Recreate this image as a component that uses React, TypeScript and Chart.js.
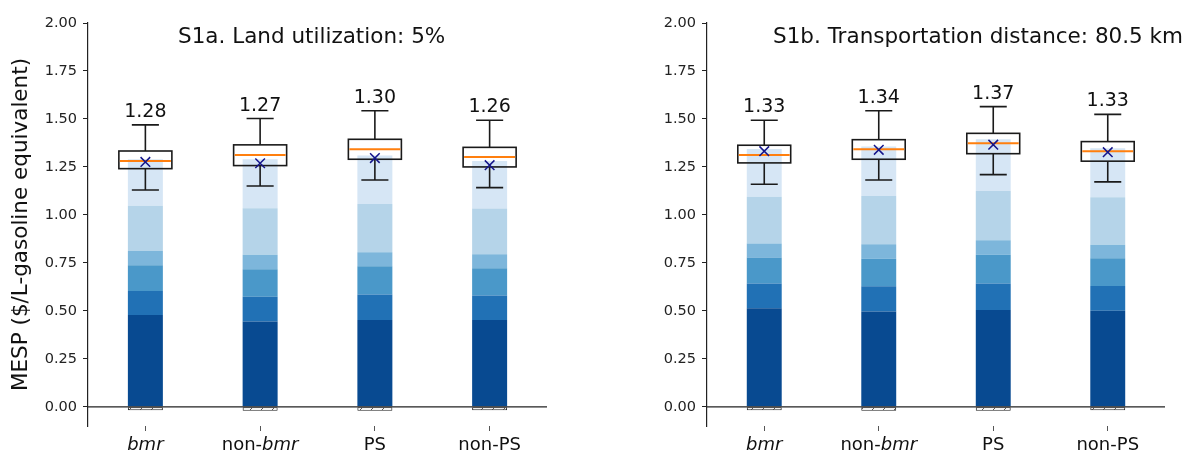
import React, { useEffect, useRef } from "react";
import { Chart, registerables } from "chart.js";

Chart.register(...registerables);
Chart.defaults.font.family = '"DejaVu Sans", sans-serif';

const FONT = '"DejaVu Sans", sans-serif';

// ---------- data ----------
const categories = ["bmr", "non-bmr", "PS", "non-PS"];
const yTicks = [0, 0.25, 0.5, 0.75, 1.0, 1.25, 1.5, 1.75, 2.0];
const layerColors = ["#084a91", "#2171b5", "#4a98c9", "#7db6db", "#b5d4e9", "#d6e6f5"];

// Panel S1a: stacked cost layers (bottom -> top), one value per category
const aLayer1 = [0.478, 0.444, 0.453, 0.453];
const aLayer2 = [0.126, 0.129, 0.132, 0.127];
const aLayer3 = [0.134, 0.144, 0.148, 0.142];
const aLayer4 = [0.074, 0.075, 0.073, 0.073];
const aLayer5 = [0.236, 0.243, 0.251, 0.238];
const aLayer6 = [0.242, 0.255, 0.253, 0.248];
const aNegative = [-0.018, -0.02, -0.02, -0.018];
const aWhiskerLow = [1.13, 1.151, 1.182, 1.142];
const aQ1 = [1.241, 1.257, 1.29, 1.25];
const aMedian = [1.281, 1.3125, 1.342, 1.302];
const aQ3 = [1.333, 1.365, 1.394, 1.352];
const aWhiskerHigh = [1.469, 1.502, 1.543, 1.493];
const aMean = [1.276, 1.269, 1.296, 1.259];

// Panel S1b
const bLayer1 = [0.514, 0.496, 0.505, 0.5];
const bLayer2 = [0.128, 0.132, 0.137, 0.13];
const bLayer3 = [0.136, 0.144, 0.151, 0.144];
const bLayer4 = [0.073, 0.075, 0.075, 0.071];
const bLayer5 = [0.243, 0.252, 0.257, 0.247];
const bLayer6 = [0.25, 0.257, 0.269, 0.255];
const bNegative = [-0.018, -0.02, -0.02, -0.018];
const bWhiskerLow = [1.16, 1.182, 1.21, 1.172];
const bQ1 = [1.271, 1.29, 1.319, 1.28];
const bMedian = [1.3125, 1.342, 1.373, 1.332];
const bQ3 = [1.363, 1.392, 1.425, 1.382];
const bWhiskerHigh = [1.493, 1.543, 1.564, 1.524];
const bMean = [1.332, 1.339, 1.366, 1.327];

const titleA = "S1a. Land utilization: 5%";
const titleB = "S1b. Transportation distance: 80.5 km";
const yAxisTitle = "MESP ($/L-gasoline equivalent)";

type PanelProps = {
  layers: number[][];
  negative: number[];
  whiskerLow: number[];
  q1: number[];
  median: number[];
  q3: number[];
  whiskerHigh: number[];
  mean: number[];
  title: string;
  titleOffset: number;
  showYTitle: boolean;
  yAxisWidth: number;
  padRight: number;
  width: number;
  left: number;
};

function makeHatch(ctx: CanvasRenderingContext2D) {
  const s = 11;
  const c = document.createElement("canvas");
  c.width = s;
  c.height = s;
  const g = c.getContext("2d")!;
  g.fillStyle = "#ffffff";
  g.fillRect(0, 0, s, s);
  g.strokeStyle = "#333";
  g.lineWidth = 1;
  g.beginPath();
  g.moveTo(0, s);
  g.lineTo(s, 0);
  g.moveTo(-3, 3);
  g.lineTo(3, -3);
  g.moveTo(s - 3, s + 3);
  g.lineTo(s + 3, s - 3);
  g.stroke();
  return ctx.createPattern(c, "repeat");
}

function Panel(p: PanelProps) {
  const ref = useRef<HTMLCanvasElement | null>(null);

  useEffect(() => {
    const canvas = ref.current!;
    const ctx2d = canvas.getContext("2d")!;
    const hatch = makeHatch(ctx2d);

    const overlay = {
      id: "overlay",
      afterDatasetsDraw(chart: any) {
        const { ctx, chartArea, scales } = chart;
        const x = scales.x;
        const y = scales.y;
        ctx.save();
        // zero line
        const y0 = y.getPixelForValue(0);
        ctx.strokeStyle = "#222";
        ctx.lineWidth = 1.2;
        ctx.beginPath();
        ctx.moveTo(chartArea.left, y0);
        ctx.lineTo(chartArea.right, y0);
        ctx.stroke();

        const step = x.getPixelForValue(1) - x.getPixelForValue(0);
        const halfBox = step * 0.231;
        const halfCap = step * 0.118;
        categories.forEach((cat, i) => {
          const cx = x.getPixelForValue(i);
          const pLow = y.getPixelForValue(p.whiskerLow[i]);
          const pQ1 = y.getPixelForValue(p.q1[i]);
          const pMed = y.getPixelForValue(p.median[i]);
          const pQ3 = y.getPixelForValue(p.q3[i]);
          const pHigh = y.getPixelForValue(p.whiskerHigh[i]);
          const pMean = y.getPixelForValue(p.mean[i]);

          ctx.strokeStyle = "#1a1a1a";
          ctx.lineWidth = 1.6;
          ctx.beginPath();
          ctx.moveTo(cx, pQ3);
          ctx.lineTo(cx, pHigh);
          ctx.moveTo(cx - halfCap, pHigh);
          ctx.lineTo(cx + halfCap, pHigh);
          ctx.moveTo(cx, pQ1);
          ctx.lineTo(cx, pLow);
          ctx.moveTo(cx - halfCap, pLow);
          ctx.lineTo(cx + halfCap, pLow);
          ctx.stroke();
          ctx.strokeRect(cx - halfBox, pQ3, halfBox * 2, pQ1 - pQ3);

          ctx.strokeStyle = "#ff7f0e";
          ctx.lineWidth = 2;
          ctx.beginPath();
          ctx.moveTo(cx - halfBox + 1, pMed);
          ctx.lineTo(cx + halfBox - 1, pMed);
          ctx.stroke();

          ctx.strokeStyle = "#14148a";
          ctx.lineWidth = 1.5;
          const m = 4.8;
          ctx.beginPath();
          ctx.moveTo(cx - m, pMean - m);
          ctx.lineTo(cx + m, pMean + m);
          ctx.moveTo(cx - m, pMean + m);
          ctx.lineTo(cx + m, pMean - m);
          ctx.stroke();

          ctx.fillStyle = "#111";
          ctx.font = `19px ${FONT}`;
          ctx.textAlign = "center";
          ctx.textBaseline = "alphabetic";
          ctx.fillText(p.mean[i].toFixed(2), cx, pHigh - 8);

          // category label with italic "bmr"
          const parts = cat.split(/(bmr)/).filter((s) => s.length > 0);
          const fonts = parts.map((s) => (s === "bmr" ? `italic 18px ${FONT}` : `18px ${FONT}`));
          let total = 0;
          const widths = parts.map((s, k) => {
            ctx.font = fonts[k];
            const w = ctx.measureText(s).width;
            total += w;
            return w;
          });
          let tx = cx - total / 2;
          ctx.textAlign = "left";
          parts.forEach((s, k) => {
            ctx.font = fonts[k];
            ctx.fillText(s, tx, chartArea.bottom + 24);
            tx += widths[k];
          });
        });

        ctx.fillStyle = "#111";
        ctx.font = `21.5px ${FONT}`;
        ctx.textAlign = "left";
        ctx.textBaseline = "alphabetic";
        ctx.fillText(p.title, chartArea.left + p.titleOffset, 43);
        ctx.restore();
      },
    };

    const datasets: any[] = p.layers.map((vals, k) => ({
      label: `layer${k + 1}`,
      data: vals,
      backgroundColor: layerColors[k],
      borderWidth: 0,
      stack: "s",
      barPercentage: 0.305,
      categoryPercentage: 1,
    }));
    datasets.push({
      label: "negative",
      data: p.negative,
      backgroundColor: hatch,
      borderColor: "#222",
      borderWidth: 1,
      borderSkipped: false,
      stack: "s",
      barPercentage: 0.305,
      categoryPercentage: 1,
    });

    const chart = new Chart(canvas, {
      type: "bar",
      data: { labels: categories, datasets },
      options: {
        animation: false,
        responsive: false,
        layout: { padding: { left: 0, top: 23, right: p.padRight, bottom: 0 } },
        plugins: { legend: { display: false }, tooltip: { enabled: false } },
        scales: {
          x: {
            stacked: true,
            border: { display: false },
            grid: { display: true, offset: false, drawOnChartArea: false, drawTicks: true, tickLength: 5, color: "#555" },
            ticks: { callback: () => "", font: { size: 1 } },
            afterFit: (scale: any) => {
              scale.height = 27;
            },
          },
          y: {
            stacked: true,
            min: -0.1,
            max: 2.0,
            border: { display: true, color: "#222", width: 1.2 },
            grid: { drawOnChartArea: false, drawTicks: true, tickLength: 5, color: "#222" },
            ticks: {
              stepSize: 0.25,
              includeBounds: false,
              padding: 6,
              color: "#222",
              font: { size: 14.5, family: FONT },
              callback: (v: any) => Number(v).toFixed(2),
            },
            afterBuildTicks: (scale: any) => {
              scale.ticks = yTicks.map((v) => ({ value: v }));
            },
            title: {
              display: p.showYTitle,
              text: yAxisTitle,
              color: "#111",
              font: { size: 21.5, family: FONT },
              padding: { top: 9, bottom: 0 },
            },
            afterFit: (scale: any) => {
              scale.width = p.yAxisWidth;
            },
          },
        },
      },
      plugins: [overlay],
    } as any);

    return () => chart.destroy();
  }, []);

  return (
    <div style={{ position: "absolute", left: p.left, top: 0, width: p.width, height: 453 }}>
      <canvas ref={ref} width={p.width} height={453} style={{ display: "block" }} />
    </div>
  );
}

export default function App() {
  return (
    <div style={{ position: "absolute", left: 0, top: 0, width: 1187, height: 453, background: "#fff" }}>
      <Panel
        layers={[aLayer1, aLayer2, aLayer3, aLayer4, aLayer5, aLayer6]}
        negative={aNegative}
        whiskerLow={aWhiskerLow}
        q1={aQ1}
        median={aMedian}
        q3={aQ3}
        whiskerHigh={aWhiskerHigh}
        mean={aMean}
        title={titleA}
        titleOffset={90}
        showYTitle={true}
        yAxisWidth={88}
        padRight={53}
        width={600}
        left={0}
      />
      <Panel
        layers={[bLayer1, bLayer2, bLayer3, bLayer4, bLayer5, bLayer6]}
        negative={bNegative}
        whiskerLow={bWhiskerLow}
        q1={bQ1}
        median={bMedian}
        q3={bQ3}
        whiskerHigh={bWhiskerHigh}
        mean={bMean}
        title={titleB}
        titleOffset={66}
        showYTitle={false}
        yAxisWidth={107}
        padRight={22}
        width={587}
        left={600}
      />
    </div>
  );
}
